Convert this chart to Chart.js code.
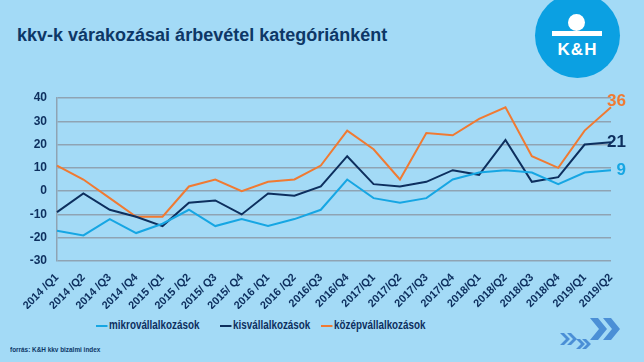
<!DOCTYPE html>
<html>
<head>
<meta charset="utf-8">
<script src="https://cdn.jsdelivr.net/npm/chart.js@4/dist/chart.umd.min.js"></script>
<style>
  html, body { margin: 0; padding: 0; }
  body { width: 644px; height: 362px; background: #a3daf6; position: relative; overflow: hidden;
         font-family: "Liberation Sans", Arial, sans-serif; }
  #title { position: absolute; left: 17px; top: 25px; font-size: 18px; font-weight: bold; color: #0d3766; }
  #logo { position: absolute; left: 535px; top: -7px; width: 85px; height: 85px; border-radius: 50%;
          background: #0ba0e2; color: #fff; }
  #logo .k { position: absolute; left: 0; right: 0; top: 47px; text-align: center; font-size: 17px;
             font-weight: bold; letter-spacing: 1px; }
  #logo .head { position: absolute; left: 33px; top: 21px; width: 17px; height: 17px; border-radius: 50%; background: #fff; }
  #logo .bar { position: absolute; left: 17px; top: 38px; width: 50px; height: 5px; background: #fff; }
  #source { position: absolute; left: 10px; top: 345px; font-size: 8px; font-weight: bold; color: #0d3766;
            transform: scaleX(0.8); transform-origin: left center; white-space: nowrap; }
  #legend .item { position: absolute; top: 318px; white-space: nowrap; font-size: 12px; font-weight: bold; color: #0d2f5e;
                  transform: scaleX(0.82); transform-origin: left center; }
  #legend .mark { display: inline-block; width: 14px; height: 2px; vertical-align: middle; margin-right: 2px; }
  #wrap { position: absolute; left: 0; top: 0; width: 644px; height: 362px; }
</style>
</head>
<body>
<div id="title">kkv-k várakozásai árbevétel kategóriánként</div>
<div id="logo"><div class="head"></div><div class="bar"></div><div class="k">K&amp;H</div></div>
<div id="legend"></div>
<div id="source">forrás: K&amp;H kkv bizalmi index</div>
<div id="wrap"><canvas id="chart" width="644" height="362"></canvas></div>
<script>
// Negyedévek (2014/Q1 – 2019/Q2)
const labels = ['2014 /Q1', '2014 /Q2', '2014 /Q3', '2014 /Q4', '2015 /Q1', '2015 /Q2', '2015/ Q3', '2015/ Q4',
  '2016 /Q1', '2016 /Q2', '2016/Q3', '2016/Q4', '2017/Q1', '2017/Q2', '2017/Q3', '2017/Q4',
  '2018/Q1', '2018/Q2', '2018/Q3', '2018/Q4', '2019/Q1', '2019/Q2'];

// Werte
const mikro = [-17, -19, -12, -18, -14, -8, -15, -12, -15, -12, -8, 5, -3, -5, -3, 5, 8, 9, 8, 3, 8, 9];
const kis = [-9, -1, -8, -11, -15, -5, -4, -10, -1, -2, 2, 15, 3, 2, 4, 9, 7, 22, 4, 6, 20, 21];
const kozep = [11, 5, -3, -11, -11, 2, 5, 0, 4, 5, 11, 26, 18, 5, 25, 24, 31, 36, 15, 10, 26, 36];

const navy = '#0d2f5e';
const grid = '#8fa3b3';

// Endwerte rechts neben den Linien
const endLabels = {
  id: 'endLabels',
  afterDatasetsDraw(chart) {
    const { ctx } = chart;
    ctx.save();
    ctx.font = 'bold 17px "Liberation Sans", Arial, sans-serif';
    ctx.textAlign = 'right';
    ctx.textBaseline = 'middle';
    chart.data.datasets.forEach((ds, i) => {
      const pts = chart.getDatasetMeta(i).data;
      const p = pts[pts.length - 1];
      ctx.fillStyle = ds.borderColor;
      const up = i === 2 ? 6 : 0;
      ctx.fillText(String(ds.data[ds.data.length - 1]), 626, p.y - up);
    });
    ctx.restore();
  }
};

// Pfeile unten rechts
const chevrons = {
  id: 'chevrons',
  afterDraw(chart) {
    const { ctx } = chart;
    const chev = (x, y, w, h, t) => {
      ctx.beginPath();
      ctx.moveTo(x, y);
      ctx.lineTo(x + t, y);
      ctx.lineTo(x + t + w, y + h / 2);
      ctx.lineTo(x + t, y + h);
      ctx.lineTo(x, y + h);
      ctx.lineTo(x + w, y + h / 2);
      ctx.closePath();
      ctx.fill();
    };
    ctx.save();
    ctx.fillStyle = '#4b8fd6';
    chev(590, 318, 9, 22, 8);
    chev(603, 318, 9, 22, 8);
    chev(560, 333, 6, 12, 4);
    chev(567, 333, 6, 12, 4);
    chev(576, 339, 5, 10, 4);
    chev(582, 339, 5, 10, 4);
    ctx.restore();
  }
};

const chart = new Chart(document.getElementById('chart'), {
  type: 'line',
  data: {
    labels,
    datasets: [
      { label: 'mikrovállalkozások', data: mikro, borderColor: '#16a6e3', backgroundColor: '#16a6e3' },
      { label: 'kisvállalkozások', data: kis, borderColor: navy, backgroundColor: navy },
      { label: 'középvállalkozások', data: kozep, borderColor: '#f07a32', backgroundColor: '#f07a32' }
    ]
  },
  options: {
    responsive: false,
    animation: false,
    layout: { padding: { left: 0, right: 33, top: 98, bottom: 53 } },
    elements: {
      line: { borderWidth: 2, tension: 0 },
      point: { radius: 0 }
    },
    scales: {
      x: {
        offset: false,
        grid: { display: false },
        border: { display: false },
        ticks: {
          color: navy, font: { family: '"Liberation Sans", Arial', size: 11, weight: 'bold' },
          maxRotation: 45, minRotation: 45, autoSkip: false, padding: 2
        },
        afterFit: (s) => { s.height = 48; }
      },
      y: {
        min: -30, max: 40,
        ticks: { stepSize: 10, color: navy, font: { family: '"Liberation Sans", Arial', size: 12, weight: 'bold' }, padding: 10 },
        grid: { color: grid, lineWidth: 1.5, drawTicks: false },
        border: { display: true, color: grid, width: 1.5 },
        afterFit: (s) => { s.width = 57; }
      }
    },
    plugins: {
      legend: { display: false },
      tooltip: { enabled: false }
    }
  },
  plugins: [endLabels, chevrons]
});

// Legende als HTML (schmale Schrift wie im Original)
const legendX = [96, 220, 321];
const legendEl = document.getElementById('legend');
chart.data.datasets.forEach((ds, i) => {
  const item = document.createElement('div');
  item.className = 'item';
  item.style.left = legendX[i] + 'px';
  item.innerHTML = `<span class="mark" style="background:${ds.borderColor}"></span>${ds.label}`;
  legendEl.appendChild(item);
});
</script>
</body>
</html>
